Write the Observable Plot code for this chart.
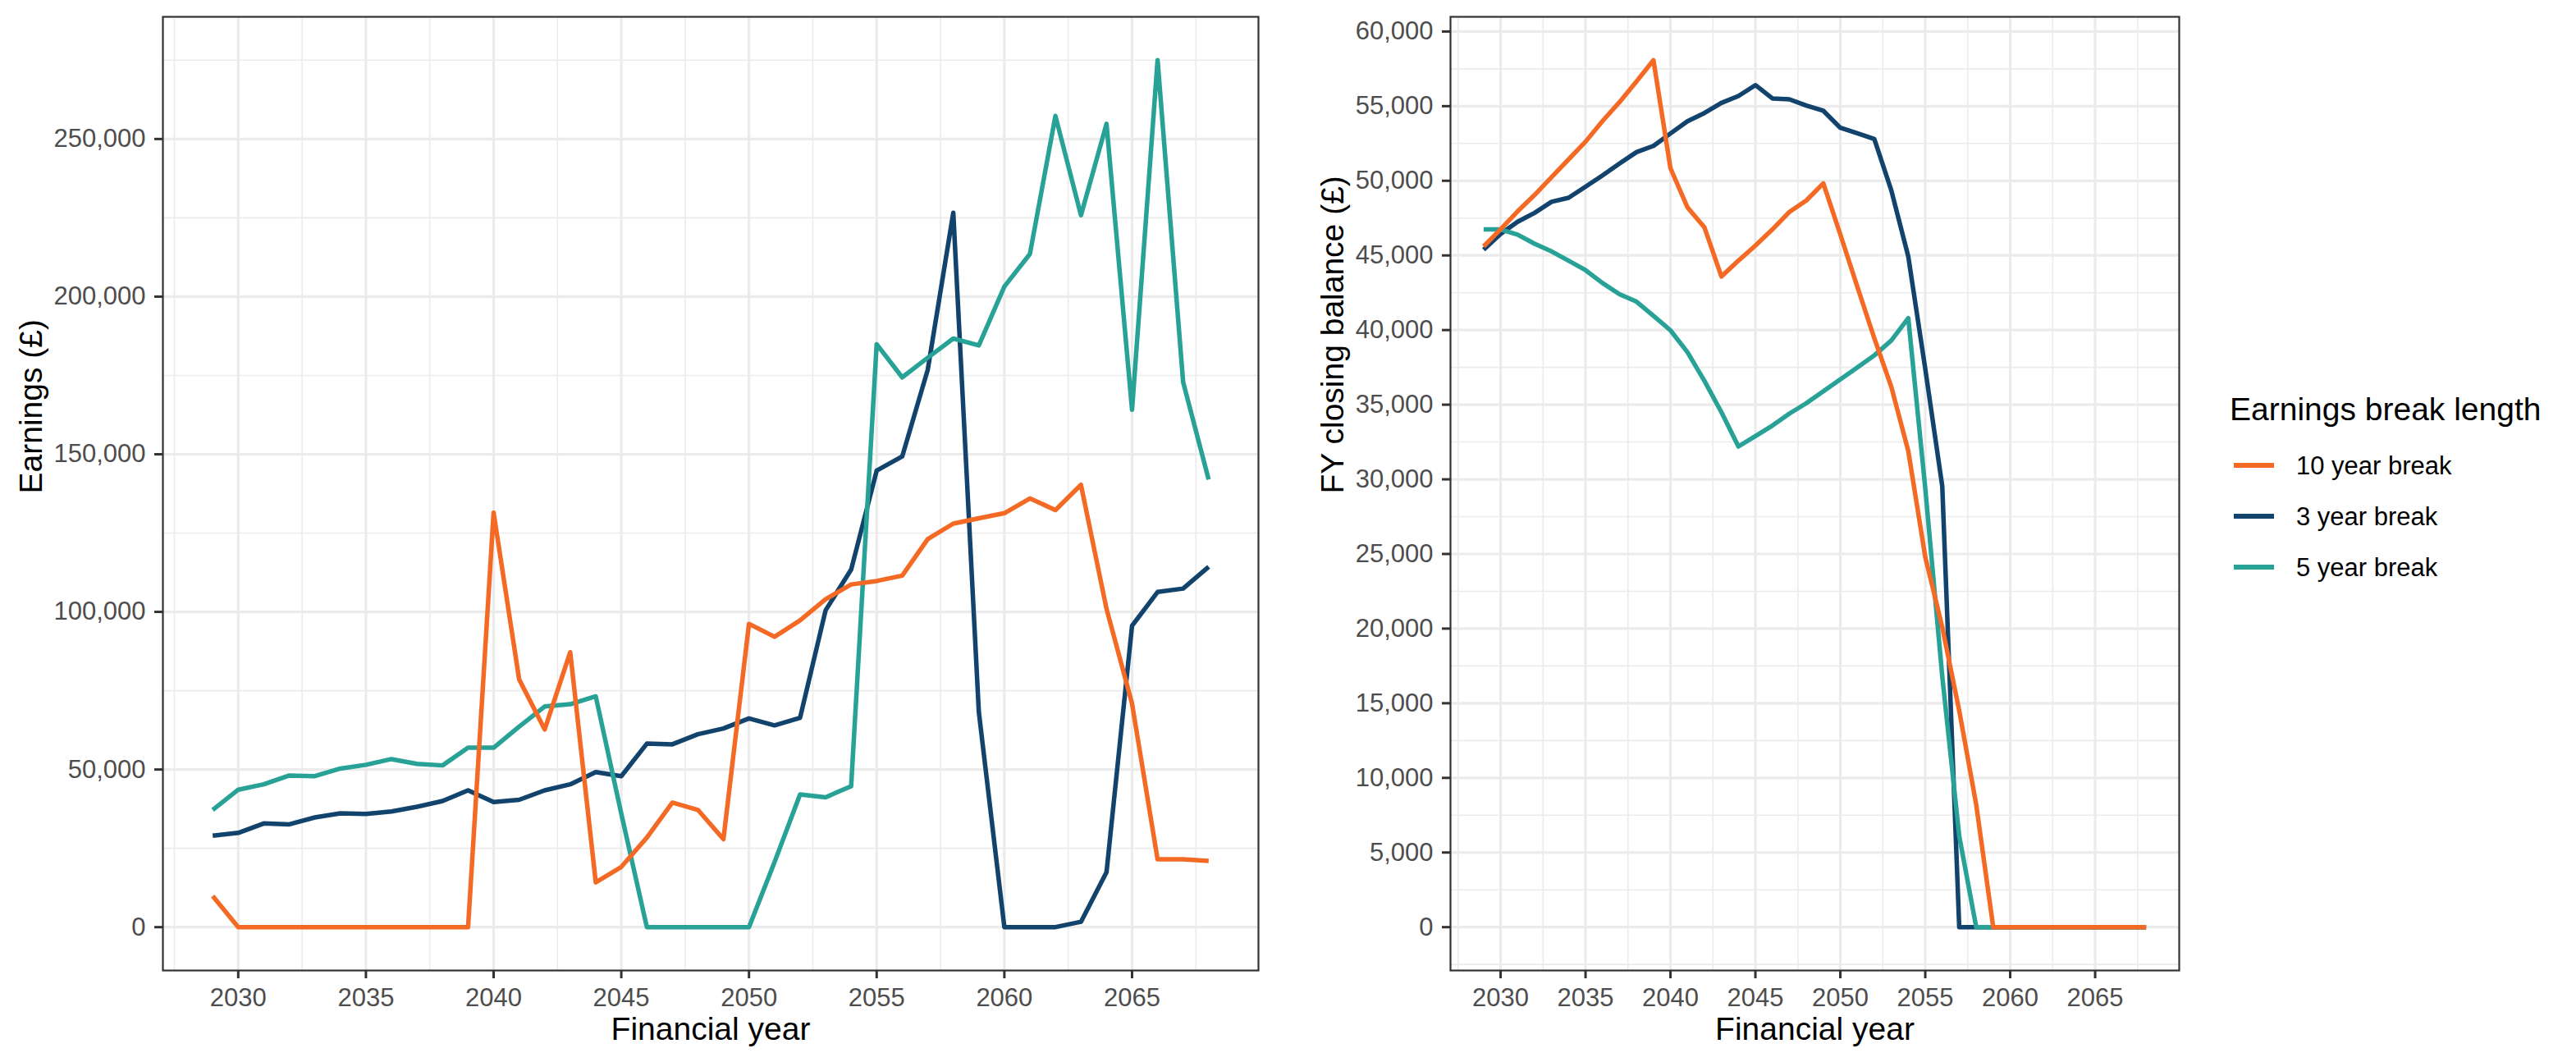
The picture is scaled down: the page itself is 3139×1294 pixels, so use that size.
<!DOCTYPE html>
<html>
<head>
<meta charset="utf-8">
<script src="https://cdn.jsdelivr.net/npm/d3@7"></script>
<script src="https://cdn.jsdelivr.net/npm/@observablehq/plot@0.6"></script>
<style>
  html, body { margin: 0; padding: 0; background: #ffffff; }
  body { font-family: "Liberation Sans", Arial, sans-serif; }
  #wrap { position: relative; width: 3139px; height: 1294px; overflow: hidden; background: #fff; }
  #left { position: absolute; left: 0; top: 0; width: 1560px; height: 1294px; }
  #right { position: absolute; left: 1560px; top: 0; width: 1100px; height: 1294px; }
  #legend { position: absolute; left: 2700px; top: 460px; width: 439px; height: 300px; }
  svg { max-width: none !important; }
</style>
</head>
<body>
<div id="wrap">
  <div id="left"></div>
  <div id="right"></div>
  <div id="legend"></div>
</div>
<script>
// ---------------- data ----------------
const years = [2029, 2030, 2031, 2032, 2033, 2034, 2035, 2036, 2037, 2038,
               2039, 2040, 2041, 2042, 2043, 2044, 2045, 2046, 2047, 2048,
               2049, 2050, 2051, 2052, 2053, 2054, 2055, 2056, 2057, 2058,
               2059, 2060, 2061, 2062, 2063, 2064, 2065, 2066, 2067, 2068];

const seriesLabels = ["10 year break", "3 year break", "5 year break"];
const seriesColors = ["#F46A25", "#12436D", "#28A197"];
const drawOrder = ["3 year break", "5 year break", "10 year break"];

// Earnings (£)
const earnings10 = [9900, 0, 0, 0, 0, 0, 0, 0, 0, 0,
                    0, 131500, 78600, 62700, 87200, 14200, 19100, 28400, 39500, 37200,
                    27900, 96200, 92100, 97300, 104000, 108700, 109800, 111500, 123100, 128000,
                    129700, 131300, 136000, 132300, 140300, 101000, 70900, 21500, 21500, 21000];
const earnings3 = [29000, 29900, 32900, 32600, 34800, 36100, 35900, 36700, 38200, 40000,
                   43400, 39700, 40400, 43400, 45300, 49200, 47900, 58200, 58000, 61200,
                   63000, 66200, 64000, 66400, 100500, 113400, 144800, 149300, 176800, 226600,
                   68300, 0, 0, 0, 1700, 17400, 95600, 106300, 107400, 114300];
const earnings5 = [37200, 43600, 45300, 48100, 47900, 50300, 51500, 53300, 51800, 51300,
                   56900, 56900, 63600, 70000, 70700, 73200, 36000, 0, 0, 0,
                   0, 0, 20600, 42100, 41200, 44700, 184900, 174400, 180600, 186700,
                   184500, 203200, 213500, 257300, 225800, 254800, 164100, 275000, 172900, 142000];

// FY closing balance (£)
const balance10 = [45600, 46750, 47950, 49050, 50240, 51430, 52620, 54000, 55270, 56650,
                   58080, 50840, 48220, 46880, 43590, 44650, 45660, 46740, 47910, 48680,
                   49830, 46400, 42900, 39450, 36200, 31900, 24800, 20100, 14500, 8200,
                   0, 0, 0, 0, 0, 0, 0, 0, 0, 0];
const balance3 = [45380, 46440, 47250, 47850, 48590, 48860, 49600, 50360, 51150, 51920,
                  52340, 53170, 53990, 54540, 55220, 55680, 56410, 55520, 55460, 55040,
                  54690, 53550, 53180, 52800, 49360, 44930, 37400, 29540, 0, 0,
                  0, 0, 0, 0, 0, 0, 0, 0, 0, 0];
const balance5 = [46750, 46740, 46390, 45780, 45270, 44650, 44010, 43150, 42400, 41900,
                  40950, 39980, 38520, 36590, 34500, 32200, 32900, 33600, 34400, 35100,
                  35900, 36700, 37500, 38300, 39300, 40800, 29400, 16800, 6100, 0,
                  0, 0, 0, 0, 0, 0, 0, 0, 0, 0];

// ticks
const xTicks = [2030, 2035, 2040, 2045, 2050, 2055, 2060, 2065];
const xMinorTicks = [2027.5, 2032.5, 2037.5, 2042.5, 2047.5, 2052.5, 2057.5, 2062.5, 2067.5];
const earningsTicks = [0, 50000, 100000, 150000, 200000, 250000];
const earningsMinorTicks = [25000, 75000, 125000, 175000, 225000, 275000];
const balanceTicks = [0, 5000, 10000, 15000, 20000, 25000, 30000, 35000, 40000, 45000, 50000, 55000, 60000];
const balanceMinorTicks = [-2500, 2500, 7500, 12500, 17500, 22500, 27500, 32500, 37500, 42500, 47500, 52500, 57500];

const xLabel = "Financial year";
const earningsLabel = "Earnings (£)";
const balanceLabel = "FY closing balance (£)";
const legendTitle = "Earnings break length";

// ---------------- helpers ----------------
const FONT = '"Liberation Sans", Arial, sans-serif';

function toRows(bySeries) {
  return drawOrder.flatMap(s => years.map((year, i) => ({year, value: bySeries[s][i], series: s})));
}

function expand(lo, hi) {
  const p = (hi - lo) * 0.05;
  return [lo - p, hi + p];
}

function panel({rows, width, marginLeft, marginRight, yTicks, yMinor, yLabel, yLabelDx}) {
  const xDomain = expand(d3.min(years), d3.max(years));
  const yDomain = expand(d3.min(rows, d => d.value), d3.max(rows, d => d.value));
  const fmt = d3.format(",");
  return Plot.plot({
    width,
    height: 1294,
    marginTop: 20,
    marginBottom: 112,
    marginLeft,
    marginRight,
    style: {fontFamily: FONT, background: "white", overflow: "visible", maxWidth: "none"},
    x: {domain: xDomain},
    y: {domain: yDomain},
    color: {domain: seriesLabels, range: seriesColors},
    marks: [
      Plot.gridX(xMinorTicks, {stroke: "#ebebeb", strokeOpacity: 1, strokeWidth: 1.6}),
      Plot.gridY(yMinor, {stroke: "#ebebeb", strokeOpacity: 1, strokeWidth: 1.6}),
      Plot.gridX(xTicks, {stroke: "#ebebeb", strokeOpacity: 1, strokeWidth: 3.2}),
      Plot.gridY(yTicks, {stroke: "#ebebeb", strokeOpacity: 1, strokeWidth: 3.2}),
      Plot.line(rows, {
        x: "year", y: "value", z: "series", stroke: "series",
        strokeWidth: 5.5, strokeLinejoin: "round", strokeLinecap: "butt"
      }),
      Plot.frame({stroke: "#333333", strokeWidth: 2.2}),
      Plot.axisX(xTicks, {
        tickSize: 10, tickPadding: 11, fontSize: 31, label: null, tickFormat: d => String(d),
        stroke: "#333333", strokeWidth: 3, fill: "#4d4d4d"
      }),
      Plot.axisY(yTicks, {
        tickSize: 10, tickPadding: 11, fontSize: 31, label: null, tickFormat: fmt,
        stroke: "#333333", strokeWidth: 3, fill: "#4d4d4d"
      }),
      Plot.text([xLabel], {
        frameAnchor: "bottom", dy: 72, lineAnchor: "middle", text: d => d,
        fontSize: 39, fill: "#000000"
      }),
      Plot.text([yLabel], {
        frameAnchor: "left", dx: yLabelDx, lineAnchor: "middle", text: d => d,
        rotate: -90, fontSize: 39, fill: "#000000"
      })
    ]
  });
}

// ---------------- panels ----------------
const earningsRows = toRows({"10 year break": earnings10, "3 year break": earnings3, "5 year break": earnings5});
const balanceRows = toRows({"10 year break": balance10, "3 year break": balance3, "5 year break": balance5});

document.getElementById("left").appendChild(panel({
  rows: earningsRows, width: 1560, marginLeft: 198, marginRight: 27,
  yTicks: earningsTicks, yMinor: earningsMinorTicks, yLabel: earningsLabel, yLabelDx: -160
}));

document.getElementById("right").appendChild(panel({
  rows: balanceRows, width: 1100, marginLeft: 207, marginRight: 5,
  yTicks: balanceTicks, yMinor: balanceMinorTicks, yLabel: balanceLabel, yLabelDx: -143
}));

// ---------------- legend ----------------
const leg = d3.select("#legend").append("svg")
  .attr("width", 439).attr("height", 300)
  .style("font-family", FONT);
leg.append("text").attr("x", 17).attr("y", 52)
  .attr("font-size", 39).attr("fill", "#000").text(legendTitle);
seriesLabels.forEach((s, i) => {
  const cy = 107 + i * 62;
  leg.append("line").attr("x1", 22).attr("x2", 71).attr("y1", cy).attr("y2", cy)
    .attr("stroke", seriesColors[i]).attr("stroke-width", 6);
  leg.append("text").attr("x", 98).attr("y", cy + 11)
    .attr("font-size", 31).attr("fill", "#000").text(s);
});
</script>
</body>
</html>
